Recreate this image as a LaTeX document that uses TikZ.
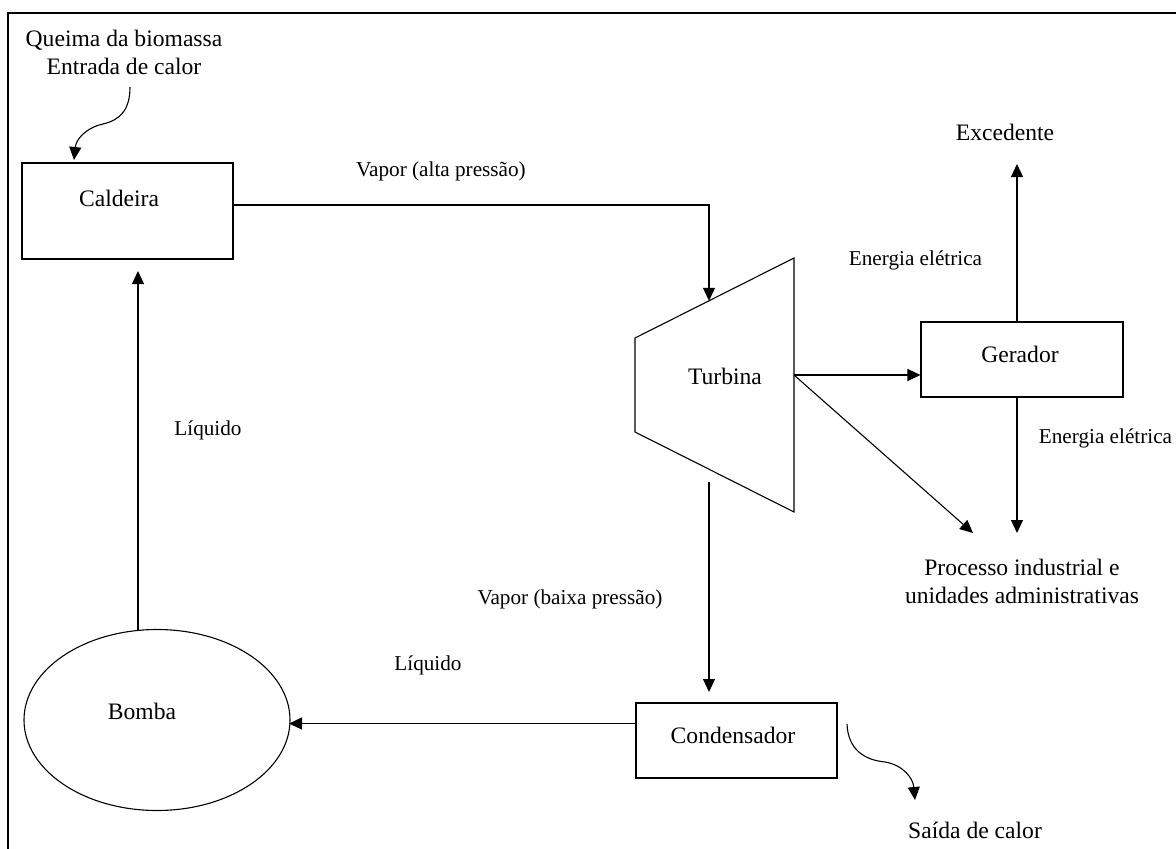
\documentclass[tikz,border=0pt]{standalone}
\usepackage{fontspec}
\setmainfont{Liberation Serif}
\usetikzlibrary{arrows.meta,shapes.geometric}
\begin{document}
\begin{tikzpicture}[x=1pt,y=-1pt,
  line width=1.1pt,
  arr/.style={-{Triangle[length=13pt,width=12pt]}},
  box/.style={draw, rectangle, inner sep=0pt},
  big/.style={font=\fontsize{23.6}{28}\selectfont, inner sep=0pt},
  small/.style={font=\fontsize{21.2}{26}\selectfont, inner sep=0pt},
]
\useasboundingbox (0,0) rectangle (1176,849);
% frame (top and left edges)
\draw[line width=2pt] (8,849) -- (8,13) -- (1176,13);

% components
\node[box, minimum width=211pt, minimum height=96pt] (caldeira) at (127.5,211) {};
\node[big, anchor=base] (caldeiraT) at (119,206) {Caldeira};

\node[box, minimum width=202pt, minimum height=75pt] (gerador) at (1022,359.5) {};
\node[big, anchor=base] (geradorT) at (1020,362.5) {Gerador};

\node[box, minimum width=201pt, minimum height=75pt] (condensador) at (736.5,740.5) {};
\node[big, anchor=base] (condensadorT) at (733,743) {Condensador};

\node[draw, ellipse, inner sep=0pt, minimum width=266pt, minimum height=181pt] (bomba) at (157,720) {};
\node[big, anchor=base] (bombaT) at (142,719) {Bomba};

% turbine outline
\coordinate (tTR) at (794,258);
\coordinate (tTL) at (635,338);
\coordinate (tBL) at (635,432);
\coordinate (tBR) at (794,512);
\draw (tTR) -- (tTL) -- (tBL) -- (tBR) -- cycle;
\node[big, anchor=base] (turbina) at (725,384) {Turbina};

% free texts
\node[big, align=center] (queima) at (124,52) {Queima da biomassa\\Entrada de calor};
\node[big, anchor=base] (excedente) at (1005,140) {Excedente};
\node[big, align=center] (processo) at (1022,581) {Processo industrial e\\unidades administrativas};
\node[big, anchor=base] (saida) at (975,838) {Saída de calor};

% connector end points
\coordinate (heatIn) at (130,87);
\coordinate (heatTip) at (74,160);
\coordinate (calOut) at (233,205);
\coordinate (tIn) at (709,300.8);
\coordinate (tOut) at (794,375);
\coordinate (tLow) at (709,482);
\coordinate (genTop) at (1017,322);
\coordinate (genBot) at (1017,397);
\coordinate (excTip) at (1017,164);
\coordinate (procTipA) at (973,533);
\coordinate (procTipB) at (1017,533);
\coordinate (condTip) at (709,692);
\coordinate (condOut) at (636,723.5);
\coordinate (bombaIn) at (289,723.5);
\coordinate (bombaOut) at (138,629.5);
\coordinate (calTip) at (138,271);
\coordinate (heatOut) at (847,724);
\coordinate (heatOutTip) at (915,800);

% connectors
\draw[arr] (heatIn) .. controls (130,110) and (120,120) .. (103,124)
                    .. controls (85,128) and (76,140) .. (heatTip);
\draw[arr] (calOut) -| (tIn);
\draw[arr] (tOut) -- (gerador.west |- tOut);
\draw[arr] (tOut) -- (procTipA);
\draw[arr] (genTop) -- (excTip);
\draw[arr] (genBot) -- (procTipB);
\draw[arr] (tLow) -- (condTip);
\draw[arr] (condOut) -- (bombaIn);
\draw[arr] (bombaOut) -- (calTip);
\draw[arr] (heatOut) .. controls (848,750) and (865,760) .. (885,762)
                     .. controls (903,765) and (913,778) .. (heatOutTip);

% flow labels
\node[small, anchor=base] (lAlta) at (441,176) {Vapor (alta pressão)};
\node[small, anchor=base] (lEnergia1) at (915.5,265) {Energia elétrica};
\node[small, anchor=base] (lEnergia2) at (1105.5,443) {Energia elétrica};
\node[small, anchor=base] (lLiq1) at (208,435) {Líquido};
\node[small, anchor=base] (lBaixa) at (570,604) {Vapor (baixa pressão)};
\node[small, anchor=base] (lLiq2) at (428,670) {Líquido};
\end{tikzpicture}
\end{document}
